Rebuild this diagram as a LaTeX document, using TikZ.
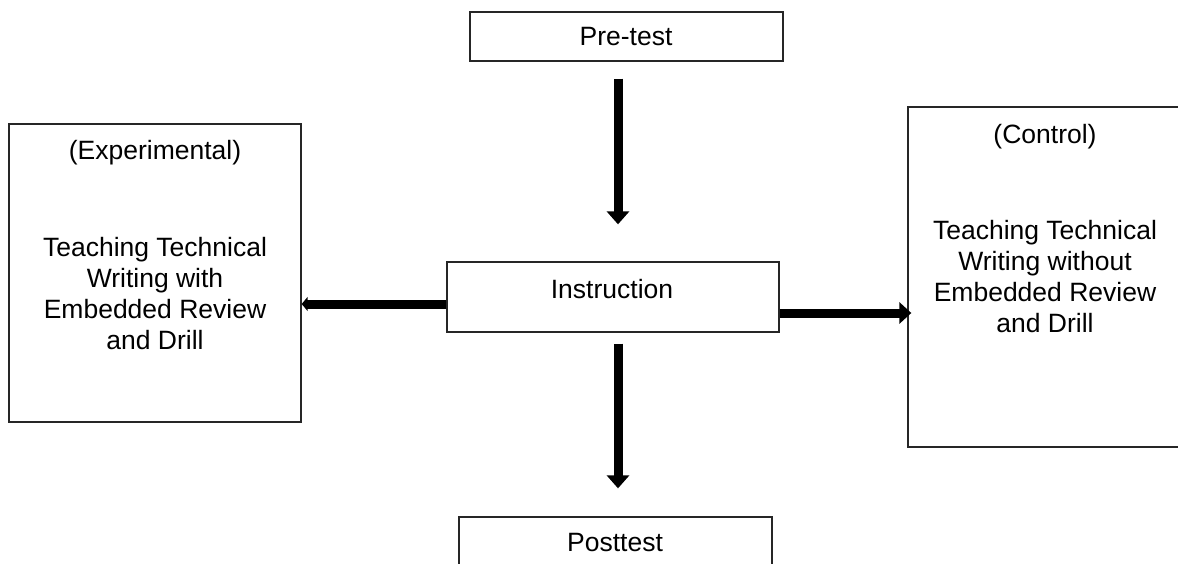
\documentclass[tikz,border=0pt]{standalone}
\usepackage{fontspec}
\setmainfont{Liberation Sans}
\usetikzlibrary{arrows.meta,calc}

\tikzset{
  box/.style={draw=black!85,line width=1.3pt,inner sep=0pt},
  boxtext/.style={align=center,inner sep=0pt,font=\fontsize{26.5}{31}\selectfont},
  flow/.style={line width=9pt,-{Triangle[width=22pt,length=13pt]}},
  sideflow/.style={line width=9pt,-{Triangle[width=14pt,length=6pt]}},
}

\begin{document}
\begin{tikzpicture}[x=1pt,y=-1pt]
  \clip (0,0) rectangle (1178,564);
  \fill[white] (0,0) rectangle (1178,564);

  % Kaesten
  \node[box,minimum width=313pt,minimum height=49pt] (pre) at (626.5,36.5) {};
  \node[box,minimum width=332pt,minimum height=70pt] (instr) at (613,297) {};
  \node[box,minimum width=292pt,minimum height=298pt] (exp) at (155,273) {};
  \node[box,minimum width=274pt,minimum height=340pt] (ctrl) at (1045,277) {};
  \node[box,minimum width=313pt,minimum height=49pt] (post) at (615.5,541.5) {};

  % Texte
  \node[boxtext] (pretext) at (626,37) {Pre-test};
  \node[boxtext] (instrtext) at (612,289) {Instruction};
  \node[boxtext] (exphead) at (155,153) {(Experimental)};
  \node[boxtext] (expbody) at (155,293.5) {Teaching Technical\\Writing with\\Embedded Review\\and Drill};
  \node[boxtext] (ctrlhead) at (1045,137) {(Control)};
  \node[boxtext] (ctrlbody) at (1045,276.5) {Teaching Technical\\Writing without\\Embedded Review\\and Drill};
  \node[boxtext] (posttext) at (615,543) {Posttest};

  % Pfeile
  \coordinate (axis) at (618,0);
  \draw[flow,shorten <=17pt,shorten >=37pt] (pre.south -| axis) -- (instr.north -| axis);
  \draw[flow,shorten <=11pt,shorten >=28pt] (instr.south -| axis) -- (post.north -| axis);
  \draw[sideflow] ($(instr.west)+(0,7)$) -- ($(exp.east)+(0,31)$);
  \draw[flow,-{Triangle[width=21pt,length=12pt]}] ($(instr.east)+(0,16)$) -- ($(ctrl.west)+(4,36)$);
\end{tikzpicture}
\end{document}
